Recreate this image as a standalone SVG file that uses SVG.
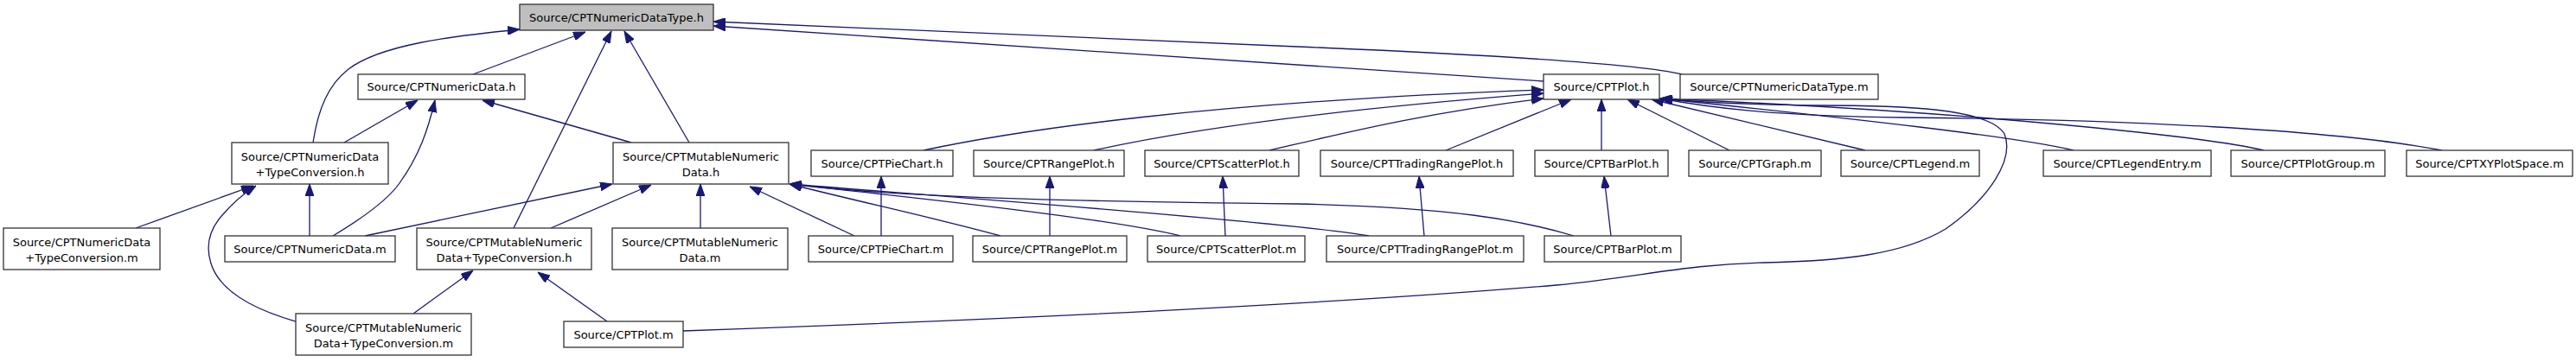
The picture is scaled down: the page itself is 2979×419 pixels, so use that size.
<svg xmlns="http://www.w3.org/2000/svg" width="2979" height="419" viewBox="0 0 2979 419">
<style>
.n rect{fill:#ffffff;stroke:#333333;stroke-width:1.3}
.n.root rect{fill:#bfbfbf}
.n text{font-family:"DejaVu Sans",Verdana,sans-serif;font-size:13px;fill:#000000;text-anchor:middle}
#edges path{fill:none;stroke:#191970;stroke-width:1.3;marker-end:url(#ah)}
</style>
<defs>
<marker id="ah" viewBox="0 0 14 10" refX="14" refY="5" markerWidth="14" markerHeight="10" markerUnits="userSpaceOnUse" orient="auto">
<path d="M0,0 L14,5 L0,10 z" fill="#191970" stroke="#191970" stroke-width="1"/>
</marker>
</defs>
<rect x="0" y="0" width="2979" height="419" fill="#ffffff"/>
<g id="edges">
<path d="M362,165 C368,125 380,98 403,80 C440,52 520,42 601,34"/>
<path d="M547,86 L677,37"/>
<path d="M594,264 L707,36"/>
<path d="M797,165 L722,36"/>
<path d="M1785,94 L825,30"/>
<path d="M1945,86 Q1880,70 1500,54 L825,25"/>
<path d="M398,165 L483,116"/>
<path d="M385,273 C420,252 448,232 462,212 C485,180 495,150 503,116"/>
<path d="M730,165 L558,116"/>
<path d="M157,264 L293,215"/>
<path d="M358,273 L358,213"/>
<path d="M342,372 C300,360 255,340 244,305 C236,280 245,262 258,248 C270,234 282,224 296,215"/>
<path d="M422,273 L708,213"/>
<path d="M637,264 L753,214"/>
<path d="M810,264 L810,213"/>
<path d="M988,273 L867,216"/>
<path d="M1157,273 C1080,252 1000,235 913,213"/>
<path d="M1365,273 C1280,252 1050,228 913,213"/>
<path d="M1583,273 C1500,258 1100,228 913,213"/>
<path d="M1820,273 C1760,255 1680,240 1500,236 C1300,234 1050,230 913,213"/>
<path d="M1068,174 C1180,150 1400,118 1785,104"/>
<path d="M1265,174 C1350,155 1500,130 1785,108"/>
<path d="M1468,174 C1550,155 1650,130 1785,114"/>
<path d="M1672,174 L1817,115"/>
<path d="M1852,174 L1852,115"/>
<path d="M2000,174 L1882,115"/>
<path d="M2157,174 L1910,115"/>
<path d="M2398,174 C2330,158 2150,138 1920,114"/>
<path d="M2618,174 C2560,160 2300,130 1920,114"/>
<path d="M2824,174 C2700,150 2450,138 2200,136 C2050,134 1980,125 1920,114"/>
<path d="M790,383 C1100,372 1500,355 1800,330 C1900,320 1950,306 2040,304 C2130,302 2200,295 2250,265 C2300,230 2330,185 2318,155 C2300,125 2200,122 2100,122 C2020,121 1960,118 1920,114"/>
<path d="M478,363 L547,313"/>
<path d="M702,372 L622,315"/>
<path d="M1019,273 L1019,204"/>
<path d="M1214,273 L1214,204"/>
<path d="M1417,273 L1414,204"/>
<path d="M1647,273 L1641,204"/>
<path d="M1863,273 L1855,204"/>
</g>
<g id="n_NDT_h" class="n root"><rect x="601" y="5" width="224" height="30"/><text x="713" y="25">Source/CPTNumericDataType.h</text></g>
<g id="n_ND_h" class="n"><rect x="414" y="86" width="193" height="29"/><text x="510.5" y="105">Source/CPTNumericData.h</text></g>
<g id="n_NDTC_h" class="n"><rect x="268" y="165" width="181" height="48"/><text x="358.5" y="186">Source/CPTNumericData</text><text x="358.5" y="204">+TypeConversion.h</text></g>
<g id="n_MND_h" class="n"><rect x="709" y="165" width="203" height="48"/><text x="810.5" y="186">Source/CPTMutableNumeric</text><text x="810.5" y="204">Data.h</text></g>
<g id="n_Plot_h" class="n"><rect x="1785" y="86" width="134" height="29"/><text x="1852" y="105">Source/CPTPlot.h</text></g>
<g id="n_NDT_m" class="n"><rect x="1943" y="86" width="229" height="29"/><text x="2057.5" y="105">Source/CPTNumericDataType.m</text></g>
<g id="n_NDTC_m" class="n"><rect x="4" y="264" width="181" height="48"/><text x="94.5" y="285">Source/CPTNumericData</text><text x="94.5" y="303">+TypeConversion.m</text></g>
<g id="n_ND_m" class="n"><rect x="260" y="273" width="197" height="30"/><text x="358.5" y="293">Source/CPTNumericData.m</text></g>
<g id="n_MNDTC_h" class="n"><rect x="482" y="264" width="202" height="48"/><text x="583" y="285">Source/CPTMutableNumeric</text><text x="583" y="303">Data+TypeConversion.h</text></g>
<g id="n_MND_m" class="n"><rect x="708" y="264" width="203" height="48"/><text x="809.5" y="285">Source/CPTMutableNumeric</text><text x="809.5" y="303">Data.m</text></g>
<g id="n_PieChart_h" class="n"><rect x="938" y="174" width="164" height="30"/><text x="1020" y="194">Source/CPTPieChart.h</text></g>
<g id="n_PieChart_m" class="n"><rect x="935" y="273" width="167" height="30"/><text x="1018.5" y="293">Source/CPTPieChart.m</text></g>
<g id="n_RangePlot_h" class="n"><rect x="1126" y="174" width="174" height="30"/><text x="1213" y="194">Source/CPTRangePlot.h</text></g>
<g id="n_RangePlot_m" class="n"><rect x="1125" y="273" width="178" height="30"/><text x="1214" y="293">Source/CPTRangePlot.m</text></g>
<g id="n_ScatterPlot_h" class="n"><rect x="1324" y="174" width="178" height="30"/><text x="1413" y="194">Source/CPTScatterPlot.h</text></g>
<g id="n_ScatterPlot_m" class="n"><rect x="1327" y="273" width="182" height="30"/><text x="1418" y="293">Source/CPTScatterPlot.m</text></g>
<g id="n_TradingRangePlot_h" class="n"><rect x="1527" y="174" width="223" height="30"/><text x="1638.5" y="194">Source/CPTTradingRangePlot.h</text></g>
<g id="n_TradingRangePlot_m" class="n"><rect x="1534" y="273" width="228" height="30"/><text x="1648" y="293">Source/CPTTradingRangePlot.m</text></g>
<g id="n_BarPlot_h" class="n"><rect x="1775" y="174" width="154" height="30"/><text x="1852" y="194">Source/CPTBarPlot.h</text></g>
<g id="n_BarPlot_m" class="n"><rect x="1786" y="273" width="158" height="30"/><text x="1865" y="293">Source/CPTBarPlot.m</text></g>
<g id="n_Graph_m" class="n"><rect x="1953" y="174" width="153" height="30"/><text x="2029.5" y="194">Source/CPTGraph.m</text></g>
<g id="n_Legend_m" class="n"><rect x="2129" y="174" width="160" height="30"/><text x="2209" y="194">Source/CPTLegend.m</text></g>
<g id="n_LegendEntry_m" class="n"><rect x="2363" y="174" width="194" height="30"/><text x="2460" y="194">Source/CPTLegendEntry.m</text></g>
<g id="n_PlotGroup_m" class="n"><rect x="2580" y="174" width="178" height="30"/><text x="2669" y="194">Source/CPTPlotGroup.m</text></g>
<g id="n_XYPlotSpace_m" class="n"><rect x="2783" y="174" width="192" height="30"/><text x="2879" y="194">Source/CPTXYPlotSpace.m</text></g>
<g id="n_MNDTC_m" class="n"><rect x="342" y="363" width="203" height="48"/><text x="443.5" y="384">Source/CPTMutableNumeric</text><text x="443.5" y="402">Data+TypeConversion.m</text></g>
<g id="n_Plot_m" class="n"><rect x="652" y="372" width="138" height="30"/><text x="721" y="392">Source/CPTPlot.m</text></g>
</svg>
